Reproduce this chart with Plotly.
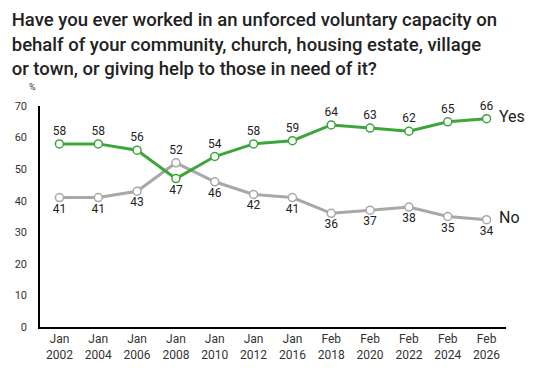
import plotly.graph_objects as go

categories = ["Jan<br>2002", "Jan<br>2004", "Jan<br>2006", "Jan<br>2008", "Jan<br>2010", "Jan<br>2012",
              "Jan<br>2016", "Feb<br>2018", "Feb<br>2020", "Feb<br>2022", "Feb<br>2024", "Feb<br>2026"]
yes_values = [58, 58, 56, 47, 54, 58, 59, 64, 63, 62, 65, 66]
no_values = [41, 41, 43, 52, 46, 42, 41, 36, 37, 38, 35, 34]
y_ticks = [0, 10, 20, 30, 40, 50, 60, 70]

GREEN = "#3da63a"
GREY = "#a8a8a8"

yes_pos = ["bottom center" if y < n else "top center" for y, n in zip(yes_values, no_values)]
no_pos = ["top center" if n > y else "bottom center" for y, n in zip(yes_values, no_values)]

fig = go.Figure()
fig.add_trace(go.Scatter(
    x=categories, y=no_values, mode="lines+markers+text",
    line=dict(color=GREY, width=3),
    marker=dict(size=8, color="white", line=dict(color=GREY, width=1.5)),
    text=[str(v) for v in no_values], textposition=no_pos,
    textfont=dict(family="Roboto", size=12, color="#222"),
    cliponaxis=False, showlegend=False, name="No"))
fig.add_trace(go.Scatter(
    x=categories, y=yes_values, mode="lines+markers+text",
    line=dict(color=GREEN, width=3),
    marker=dict(size=8, color="white", line=dict(color=GREEN, width=1.5)),
    text=[str(v) for v in yes_values], textposition=yes_pos,
    textfont=dict(family="Roboto", size=12, color="#222"),
    cliponaxis=False, showlegend=False, name="Yes"))

fig.add_annotation(x=categories[-1], y=yes_values[-1], text="Yes", showarrow=False,
                   xanchor="left", xshift=10, yshift=2,
                   font=dict(family="Roboto", size=16, color="#222"))
fig.add_annotation(x=categories[-1], y=no_values[-1], text="No", showarrow=False,
                   xanchor="left", xshift=10, yshift=2,
                   font=dict(family="Roboto", size=16, color="#222"))
fig.add_annotation(x=0, xref="paper", xanchor="right", xshift=-2, y=1, yref="paper", yanchor="bottom",
                   yshift=12, text="%", showarrow=False,
                   font=dict(family="Roboto", size=9, color="#333"))

fig.update_layout(
    width=534, height=378,
    margin=dict(l=40, r=28, t=106, b=51),
    paper_bgcolor="white", plot_bgcolor="white",
    title=dict(text="Have you ever worked in an unforced voluntary capacity on<br>"
                    "behalf of your community, church, housing estate, village<br>"
                    "or town, or giving help to those in need of it?",
               x=0.022, xanchor="left", xref="container",
               y=0.93, yanchor="top", yref="container",
               font=dict(family="Roboto", size=18.5, color="#222", weight=500)),
    xaxis=dict(type="category", range=[-0.5, 11.5], showline=True, linecolor="black", linewidth=1.5,
               showgrid=False, ticks="", tickfont=dict(family="Roboto", size=12, color="#333")),
    yaxis=dict(range=[0, 70], tickvals=y_ticks, showline=True, linecolor="black", linewidth=1.5,
               showgrid=False, zeroline=False, ticks="", ticklabelstandoff=9,
               tickfont=dict(family="Roboto", size=11, color="#333")),
)

fig.write_html("out.html", config={"displayModeBar": False},
               post_script="document.body.style.margin='0';")
